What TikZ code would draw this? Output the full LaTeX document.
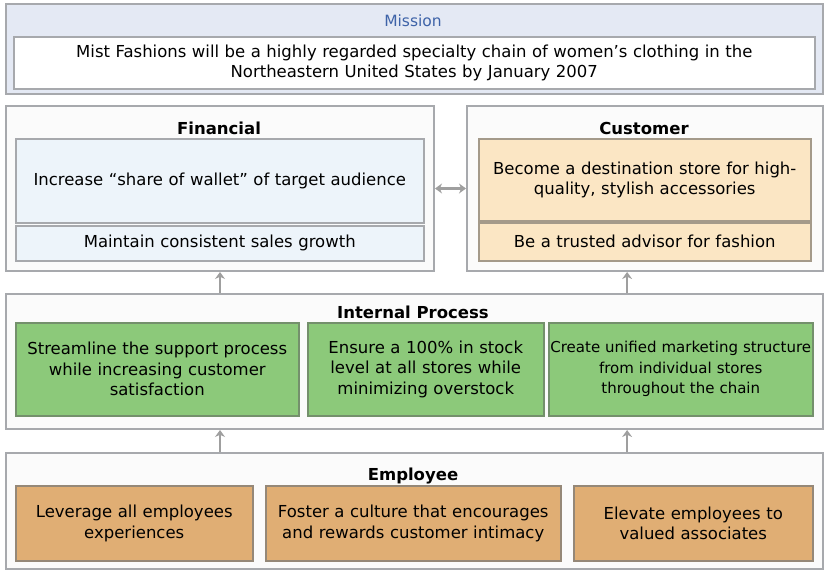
\documentclass[tikz,border=0pt]{standalone}
\usepackage{fontspec}
\setmainfont{DejaVu Sans}
\usetikzlibrary{arrows.meta,calc}
\definecolor{framegray}{HTML}{A7A9AD}
\definecolor{missionbg}{HTML}{E4E9F4}
\definecolor{missionblue}{HTML}{3E63A8}
\definecolor{finbg}{HTML}{EDF4FA}
\definecolor{custbg}{HTML}{FBE6C4}
\definecolor{custline}{HTML}{A49A8A}
\definecolor{procbg}{HTML}{8CC97A}
\definecolor{procline}{HTML}{74906C}
\definecolor{empbg}{HTML}{E0AE74}
\definecolor{empline}{HTML}{958878}
\tikzstyle{frame}=[draw=framegray, line width=2pt, fill=white, anchor=north west, inner sep=0pt]
\tikzstyle{goal}=[draw=framegray, line width=1.5pt, anchor=north west, align=center, inner sep=0pt, font=\fontsize{16.5}{20.5}\selectfont]
\tikzstyle{head}=[font=\bfseries\fontsize{16.5}{18}\selectfont, inner sep=1pt]
\tikzstyle{link}=[draw=gray!75, line width=2.5pt, -{Stealth[length=7pt,width=10pt]}]

\begin{document}
\begin{tikzpicture}[x=1pt, y=-1pt]
\useasboundingbox (0,0) rectangle (826,573);
% Mission
    \node[frame, fill=missionbg, minimum width=817pt, minimum height=90pt] (mission) at (5,3) {};
    \node[head, font=\fontsize{15.5}{18}\selectfont, text=missionblue] (missiontitle) at (413,21) {Mission};
    \node[goal, fill=white, text width=801pt, minimum height=52pt] (missiontext) at (13,36)
        {Mist Fashions will be a highly regarded specialty chain of women's clothing in the\\Northeastern United States by January 2007};
% Financial
    \node[frame, fill=gray!3, minimum width=428pt, minimum height=165pt] (fin) at (5,105) {};
    \node[head] (fintitle) at (219,128) {Financial};
    \node[goal, fill=finbg, text width=408pt, minimum height=84pt] (fin1) at (15,138)
        {Increase ``share of wallet'' of target audience};
    \node[goal, fill=finbg, text width=408pt, minimum height=35pt] (fin2) at (15,225)
        {Maintain consistent sales growth};
% Customer
    \node[frame, fill=gray!3, minimum width=356pt, minimum height=165pt] (cust) at (466,105) {};
    \node[head] (custtitle) at (644,128) {Customer};
    \node[goal, draw=custline, fill=custbg, text width=332pt, minimum height=82pt] (cust1) at (478,138)
        {Become a destination store for high-\\quality, stylish accessories};
    \node[goal, draw=custline, fill=custbg, text width=332pt, minimum height=38pt] (cust2) at (478,222)
        {Be a trusted advisor for fashion};
% Internal Process
    \node[frame, fill=gray!3, minimum width=817pt, minimum height=135pt] (proc) at (5,293) {};
    \node[head] (proctitle) at (413,312) {Internal Process};
    \node[goal, draw=procline, fill=procbg, text width=283pt, minimum height=93pt] (proc1) at (15,322)
        {Streamline the support process\\while increasing customer\\satisfaction};
    \node[goal, draw=procline, fill=procbg, text width=236pt, minimum height=93pt] (proc2) at (307,322)
        {Ensure a 100\% in stock\\level at all stores while\\minimizing overstock};
    \node[goal, draw=procline, fill=procbg, text width=264pt, minimum height=93pt, font=\fontsize{15}{20.5}\selectfont] (proc3) at (548,322)
        {Create unified marketing structure\\from individual stores\\throughout the chain};
% Employee
    \node[frame, fill=gray!3, minimum width=817pt, minimum height=116pt] (emp) at (5,452) {};
    \node[head] (emptitle) at (413,476) {Employee};
    \node[goal, draw=empline, fill=empbg, text width=237pt, minimum height=75pt] (emp1) at (15,485)
        {Leverage all employees\\experiences};
    \node[goal, draw=empline, fill=empbg, text width=295pt, minimum height=75pt] (emp2) at (265,485)
        {Foster a culture that encourages\\and rewards customer intimacy};
    \node[goal, draw=empline, fill=empbg, text width=239pt, minimum height=75pt] (emp3) at (573,485)
        {Elevate employees to\\valued associates};
% Links
    \coordinate (custlink) at ($(cust.south west)!0.45!(cust.south east)$);
    \draw[link, {Stealth[length=7pt,width=10pt]}-{Stealth[length=7pt,width=10pt]}] (fin.east) -- (cust.west);
    \draw[link] (proc.north -| fin.south) -- (fin.south);
    \draw[link] (proc.north -| custlink) -- (custlink);
    \draw[link] (emp.north -| fin.south) -- (proc.south -| fin.south);
    \draw[link] (emp.north -| custlink) -- (proc.south -| custlink);
\end{tikzpicture}
\end{document}
